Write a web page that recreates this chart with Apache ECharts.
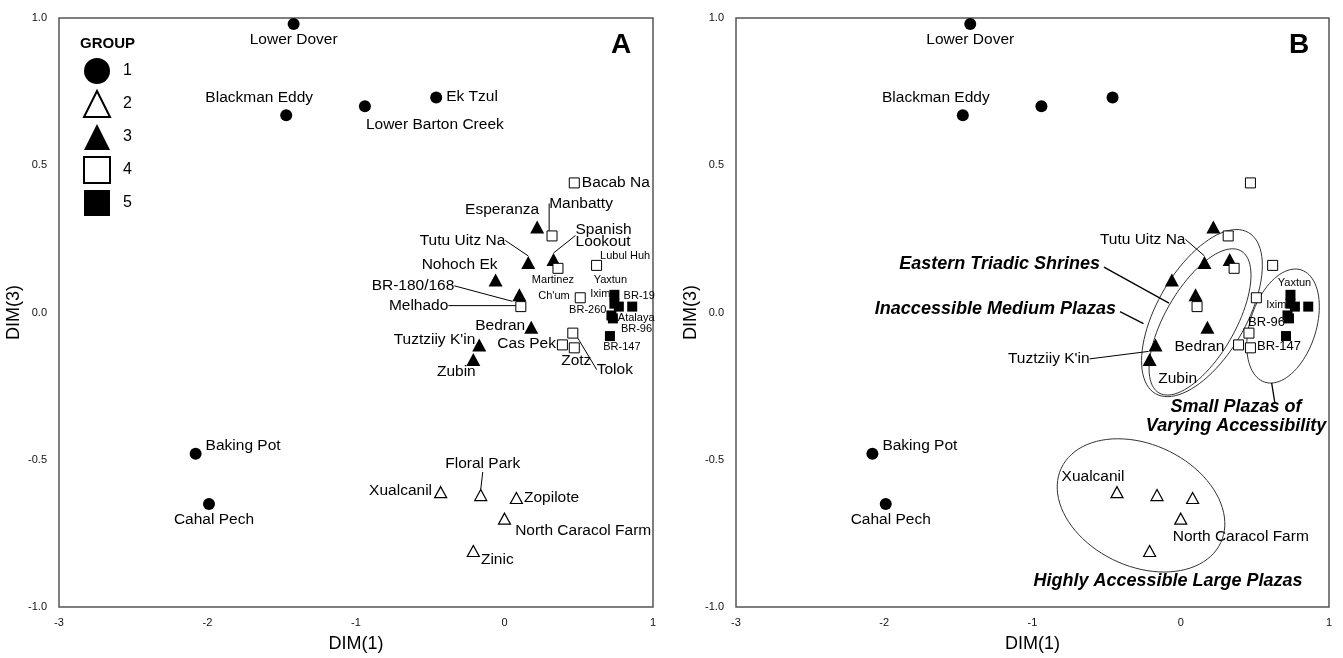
<!DOCTYPE html>
<html>
<head>
<meta charset="utf-8">
<script src="https://cdn.jsdelivr.net/npm/echarts@6/dist/echarts.min.js"></script>
<style>
  html, body { margin: 0; padding: 0; background: #fff; }
  #chart { width: 1343px; height: 658px; }
</style>
</head>
<body>
<div id="chart"></div>
<script>
// site coordinates: DIM(1) / DIM(3) and group membership
var siteNames = ['Lower Dover', 'Blackman Eddy', 'Lower Barton Creek', 'Ek Tzul', 'Baking Pot', 'Cahal Pech',
  'Xualcanil', 'Floral Park', 'Zopilote', 'North Caracol Farm', 'Zinic',
  'Esperanza', 'Tutu Uitz Na', 'Spanish Lookout', 'Nohoch Ek', 'BR-180/168', 'Bedran', "Tuztziiy K'in", 'Zubin',
  'Bacab Na', 'Manbatty', 'Martinez', 'Lubul Huh', 'Melhado', "Ch'um", 'Tolok', 'Cas Pek', 'Zotz',
  'Yaxtun', 'Ixim', 'BR-19', 'Atalaya', 'BR-260', 'BR-96', 'BR-147'];
var dim1 = [-1.42, -1.47, -0.94, -0.46, -2.08, -1.99,
  -0.43, -0.16, 0.08, 0.00, -0.21,
  0.22, 0.16, 0.33, -0.06, 0.10, 0.18, -0.17, -0.21,
  0.47, 0.32, 0.36, 0.62, 0.11, 0.51, 0.46, 0.39, 0.47,
  0.74, 0.74, 0.86, 0.77, 0.72, 0.73, 0.71];
var dim3 = [0.98, 0.67, 0.70, 0.73, -0.48, -0.65,
  -0.61, -0.62, -0.63, -0.70, -0.81,
  0.29, 0.17, 0.18, 0.11, 0.06, -0.05, -0.11, -0.16,
  0.44, 0.26, 0.15, 0.16, 0.02, 0.05, -0.07, -0.11, -0.12,
  0.06, 0.03, 0.02, 0.02, -0.01, -0.02, -0.08];
var groups = [1, 1, 1, 1, 1, 1,
  2, 2, 2, 2, 2,
  3, 3, 3, 3, 3, 3, 3, 3,
  4, 4, 4, 4, 4, 4, 4, 4, 4,
  5, 5, 5, 5, 5, 5, 5];
var groupNames = ['1', '2', '3', '4', '5'];
var xTicks = [-3, -2, -1, 0, 1];
var yTicks = [-1.0, -0.5, 0.0, 0.5, 1.0];

// panel B annotations (anchors in data units)
var ellipseCenters = [[0.143, -0.002], [0.130, -0.032], [0.690, -0.046], [-0.268, -0.655]];
var annoTexts = ['Eastern Triadic Shrines', 'Inaccessible Medium Plazas', 'Small Plazas of\nVarying Accessibility', 'Highly Accessible Large Plazas'];
var annoAnchors = [[-0.545, 0.164], [-0.437, 0.012], [0.373, -0.352], [-0.086, -0.912]];
var annoLines = [[-0.518, 0.154, -0.079, 0.032], [-0.410, 0.003, -0.251, -0.038], [0.613, -0.239, 0.636, -0.310]];

// styles
var FONT = "'Liberation Sans', Arial, sans-serif";
var ellipseShapes = [
  { rx: 93, ry: 44.5, rot: -60 },
  { rx: 82, ry: 35, rot: -60 },
  { rx: 59, ry: 33, rot: -72 },
  { rx: 88, ry: 61, rot: 25 }
];
var annoAlign = ['right', 'right', 'center', 'center'];
var groupStyle = [
  { symbol: 'circle', size: 12, item: { color: '#000', opacity: 1 } },
  { symbol: 'triangle', size: [12, 11], item: { color: '#fff', borderColor: '#000', borderWidth: 1.2, opacity: 1 } },
  { symbol: 'triangle', size: [14, 13], item: { color: '#000', opacity: 1 } },
  { symbol: 'rect', size: 10, item: { color: '#fff', borderColor: '#000', borderWidth: 1, opacity: 1 } },
  { symbol: 'rect', size: 10, item: { color: '#000', opacity: 1 } }
];

// label placement per panel: p position, o offset, ld leader displacement, s small font, f font size
var labelsA = {
  'Lower Dover': { p: 'bottom', o: [0, -3] },
  'Blackman Eddy': { p: 'top', o: [-27, 2] },
  'Lower Barton Creek': { p: 'right', o: [-10, 18] },
  'Ek Tzul': { p: 'right', o: [-1, -1] },
  'Baking Pot': { p: 'right', o: [-1, -8] },
  'Cahal Pech': { p: 'bottom', o: [5, -3] },
  'Xualcanil': { p: 'left', o: [3, -1] },
  'Floral Park': { p: 'top', o: [2, 0], ld: [0, -12] },
  'Zopilote': { p: 'right', o: [-4, 0] },
  'North Caracol Farm': { p: 'right', o: [-1, 12] },
  'Zinic': { p: 'right', o: [-4, 9] },
  'Bacab Na': { p: 'right', o: [-3, 0] },
  'Esperanza': { p: 'top', o: [-35, 2] },
  'Manbatty': { p: 'top', ld: [29, -14] },
  'Spanish Lookout': { p: 'right', ld: [10, -24], t: 'Spanish\nLookout' },
  'Tutu Uitz Na': { p: 'left', ld: [-11, -22] },
  'Martinez': { p: 'bottom', o: [-5, -4], s: true },
  'Lubul Huh': { p: 'right', o: [-7, -9], s: true },
  'Nohoch Ek': { p: 'top', o: [-36, 4] },
  'BR-180/168': { p: 'left', ld: [-53, -9] },
  'Melhado': { p: 'left', ld: [-62, -1] },
  "Ch'um": { p: 'left', o: [0, -2], s: true },
  'Yaxtun': { p: 'top', o: [-4, 1], s: true },
  'Ixim': { p: 'left', o: [6, -10], s: true },
  'BR-19': { p: 'top', o: [7, 5], s: true },
  'Atalaya': { p: 'right', o: [-11, 11], s: true },
  'BR-260': { p: 'left', o: [5, -5], s: true },
  'BR-96': { p: 'right', o: [-2, 11], s: true },
  'BR-147': { p: 'bottom', o: [12, -5], s: true },
  'Bedran': { p: 'left', o: [6, -2] },
  "Tuztziiy K'in": { p: 'left', o: [8, -5] },
  'Zubin': { p: 'bottom', o: [-17, -7] },
  'Cas Pek': { p: 'left', o: [4, -1] },
  'Zotz': { p: 'bottom', o: [2, -6] },
  'Tolok': { p: 'bottom', ld: [42, 18] }
};
var labelsB = {
  'Lower Dover': { p: 'bottom', o: [0, -3] },
  'Blackman Eddy': { p: 'top', o: [-27, 2] },
  'Baking Pot': { p: 'right', o: [-1, -8] },
  'Cahal Pech': { p: 'bottom', o: [5, -3] },
  'Tutu Uitz Na': { p: 'left', ld: [-7, -23] },
  'Bedran': { p: 'bottom', o: [-8, 0] },
  'Zubin': { p: 'bottom', o: [28, 0] },
  "Tuztziiy K'in": { p: 'left', ld: [-54, 14] },
  'Yaxtun': { p: 'top', o: [4, 4], s: true },
  'Ixim': { p: 'left', o: [6, 1], s: true },
  'BR-96': { p: 'left', o: [6, 4], f: 13 },
  'BR-147': { p: 'bottom', o: [-7, -6], f: 13 },
  'Xualcanil': { p: 'top', o: [-24, 4] },
  'North Caracol Farm': { p: 'bottom', o: [60, -1] }
};

function makeSeries(gridIndex, spec) {
  var out = [];
  groupStyle.forEach(function (st, g) {
    var items = [];
    siteNames.forEach(function (name, i) {
      if (groups[i] !== g + 1) return;
      var s = spec[name];
      items.push({
        name: name,
        value: [dim1[i], dim3[i]],
        label: s ? {
          show: true,
          position: s.p,
          fontSize: s.f || (s.s ? 11 : 15.5),
          formatter: s.t || name,
          lineHeight: s.t ? 12 : undefined
        } : { show: false },
        labelLine: { show: !!(s && s.ld) }
      });
    });
    out.push({
      type: 'scatter',
      name: groupNames[g],
      xAxisIndex: gridIndex,
      yAxisIndex: gridIndex,
      symbol: st.symbol,
      symbolSize: st.size,
      itemStyle: st.item,
      data: items,
      silent: true,
      label: { color: '#000', fontFamily: FONT, distance: 5 },
      labelLine: { lineStyle: { color: '#000', width: 1 } },
      labelLayout: function (p) {
        var s = spec[items[p.dataIndex].name];
        if (!s) return {};
        var o = s.o || [0, 0], ld = s.ld || [0, 0];
        return { dx: o[0] + ld[0], dy: o[1] + ld[1] };
      }
    });
  });
  return out;
}

var chart = echarts.init(document.getElementById('chart'));

function axisPair(i) {
  return {
    x: {
      type: 'value', gridIndex: i, min: -3, max: 1, interval: 1,
      name: 'DIM(1)', nameLocation: 'middle', nameGap: 28,
      nameTextStyle: { fontSize: 18, color: '#000', fontFamily: FONT },
      axisLine: { show: false }, axisTick: { show: false }, splitLine: { show: false },
      axisLabel: { fontSize: 11, color: '#111', margin: 10, fontFamily: FONT,
        formatter: function (v) { return xTicks.indexOf(v) >= 0 ? String(v) : ''; } }
    },
    y: {
      type: 'value', gridIndex: i, min: -1, max: 1, interval: 0.5,
      name: 'DIM(3)', nameLocation: 'middle', nameGap: 36,
      nameTextStyle: { fontSize: 18, color: '#000', fontFamily: FONT },
      axisLine: { show: false }, axisTick: { show: false }, splitLine: { show: false },
      axisLabel: { fontSize: 11, color: '#111', margin: 12, fontFamily: FONT,
        formatter: function (v) { return yTicks.indexOf(v) >= 0 ? v.toFixed(1) : ''; } }
    }
  };
}
var axA = axisPair(0), axB = axisPair(1);

var series = makeSeries(0, labelsA).concat(makeSeries(1, labelsB));

series.push({
  type: 'custom', xAxisIndex: 1, yAxisIndex: 1, silent: true, clip: false, z: 1,
  data: ellipseCenters,
  renderItem: function (params, api) {
    var c = api.coord([api.value(0), api.value(1)]);
    var e = ellipseShapes[params.dataIndex];
    var phi = e.rot * Math.PI / 180;
    var pts = [];
    for (var k = 0; k < 90; k++) {
      var t = k / 90 * 2 * Math.PI;
      pts.push([
        c[0] + e.rx * Math.cos(t) * Math.cos(phi) - e.ry * Math.sin(t) * Math.sin(phi),
        c[1] + e.rx * Math.cos(t) * Math.sin(phi) + e.ry * Math.sin(t) * Math.cos(phi)
      ]);
    }
    return { type: 'polygon', shape: { points: pts }, style: { fill: 'none', stroke: '#333', lineWidth: 1 } };
  }
});
series.push({
  type: 'custom', xAxisIndex: 1, yAxisIndex: 1, silent: true, clip: false,
  data: annoLines,
  renderItem: function (params, api) {
    var a = api.coord([api.value(0), api.value(1)]);
    var b = api.coord([api.value(2), api.value(3)]);
    return { type: 'line', shape: { x1: a[0], y1: a[1], x2: b[0], y2: b[1] }, style: { stroke: '#000', lineWidth: 1.3 } };
  }
});
series.push({
  type: 'custom', xAxisIndex: 1, yAxisIndex: 1, silent: true, clip: false,
  data: annoAnchors,
  renderItem: function (params, api) {
    var a = api.coord([api.value(0), api.value(1)]);
    return {
      type: 'text', x: a[0], y: a[1],
      style: {
        text: annoTexts[params.dataIndex], fill: '#000',
        fontSize: 18, fontWeight: 'bold', fontStyle: 'italic', fontFamily: FONT,
        align: annoAlign[params.dataIndex], verticalAlign: 'middle', lineHeight: 19
      }
    };
  }
});

chart.setOption({
  animation: false,
  backgroundColor: '#fff',
  title: [
    { text: 'GROUP', left: 75, top: 31, textStyle: { fontSize: 15, fontWeight: 'bold', color: '#000', fontFamily: FONT } },
    { text: 'A', left: 606, top: 26, textStyle: { fontSize: 28, fontWeight: 'bold', color: '#000', fontFamily: FONT } },
    { text: 'B', left: 1284, top: 26, textStyle: { fontSize: 28, fontWeight: 'bold', color: '#000', fontFamily: FONT } }
  ],
  legend: {
    data: groupNames,
    orient: 'vertical', left: 78, top: 53,
    itemWidth: 26, itemHeight: 26, itemGap: 6,
    selectedMode: false,
    textStyle: { fontSize: 16, color: '#000', fontFamily: FONT, padding: [0, 0, 0, 8] }
  },
  grid: [
    { left: 59, top: 18, width: 594, bottom: 49, show: true, borderColor: '#555', borderWidth: 1.5 },
    { left: 736, top: 18, width: 593, bottom: 49, show: true, borderColor: '#555', borderWidth: 1.5 }
  ],
  xAxis: [axA.x, axB.x],
  yAxis: [axA.y, axB.y],
  series: series
});
</script>
</body>
</html>
